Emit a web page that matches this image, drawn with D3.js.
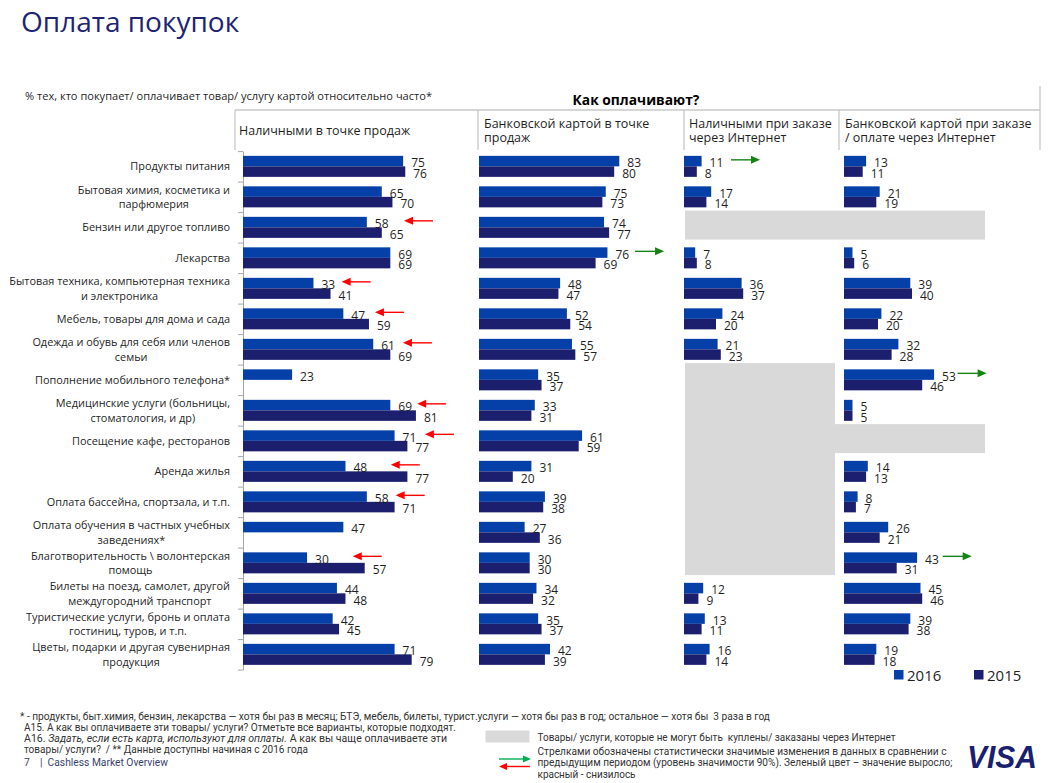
<!DOCTYPE html>
<html><head><meta charset="utf-8">
<script src="https://cdn.jsdelivr.net/npm/d3@7/dist/d3.min.js"></script>
<style>
body{margin:0;background:#fff;}
svg{display:block;font-family:"Open Sans","Noto Sans",sans-serif;}
.pre{white-space:pre;}
</style>
</head><body>
<svg id="chart" width="1055" height="783"></svg>
<script>
// ---------------- DATA ----------------
const categories = [
  ["Продукты питания"],
  ["Бытовая химия, косметика и","парфюмерия"],
  ["Бензин или другое топливо"],
  ["Лекарства"],
  ["Бытовая техника, компьютерная техника","и электроника"],
  ["Мебель, товары для дома и сада"],
  ["Одежда и обувь для себя или членов","семьи"],
  ["Пополнение мобильного телефона*"],
  ["Медицинские услуги (больницы,","стоматология, и др)"],
  ["Посещение кафе, ресторанов"],
  ["Аренда жилья"],
  ["Оплата бассейна, спортзала, и т.п."],
  ["Оплата обучения в частных учебных","заведениях*"],
  ["Благотворительность \\ волонтерская","помощь"],
  ["Билеты на поезд, самолет, другой","междугородний транспорт"],
  ["Туристические услуги, бронь и оплата","гостиниц, туров, и т.п."],
  ["Цветы, подарки и другая сувенирная","продукция"]
];
const panelTitles = [
  ["Наличными в точке продаж"],
  ["Банковской картой в точке","продаж"],
  ["Наличными при заказе","через Интернет"],
  ["Банковской картой при заказе","/ оплате через Интернет"]
];
const years = ["2016","2015"];
const cashStore2016 = [75,65,58,69,33,47,61,23,69,71,48,58,47,30,44,42,71];
const cashStore2015 = [76,70,65,69,41,59,69,null,81,77,77,71,null,57,48,45,79];
const cardStore2016 = [83,75,74,76,48,52,55,35,33,61,31,39,27,30,34,35,42];
const cardStore2015 = [80,73,77,69,47,54,57,37,31,59,20,38,36,30,32,37,39];
const cashNet2016 = [11,17,null,7,36,24,21,null,null,null,null,null,null,null,12,13,16];
const cashNet2015 = [8,14,null,8,37,20,23,null,null,null,null,null,null,null,9,11,14];
const cardNet2016 = [13,21,null,5,39,22,32,53,5,null,14,8,26,43,45,39,19];
const cardNet2015 = [11,19,null,6,40,20,28,46,5,null,13,7,21,31,46,38,18];
// cells where the item cannot be bought online (panel index, first row, number of rows, number of columns)
const notAvailable = [
  {panel:2,row:2,rows:1,cols:2},
  {panel:2,row:7,rows:7,cols:1},
  {panel:3,row:9,rows:1,cols:1}
];
// significant changes: dir -1 = decreased (red), +1 = increased (green); "at" = arrow tip on the value scale
const changes = [
  {panel:0,row:2,dir:-1,at:75.4},
  {panel:0,row:4,dir:-1,at:46.2},
  {panel:0,row:5,dir:-1,at:61.8},
  {panel:0,row:6,dir:-1,at:74.9},
  {panel:0,row:8,dir:-1,at:81.6},
  {panel:0,row:9,dir:-1,at:85.2},
  {panel:0,row:10,dir:-1,at:69.2},
  {panel:0,row:11,dir:-1,at:71.5},
  {panel:0,row:13,dir:-1,at:51.4},
  {panel:1,row:3,dir:1,at:109.5},
  {panel:2,row:0,dir:1,at:47.5},
  {panel:3,row:7,dir:1,at:83.9},
  {panel:3,row:13,dir:1,at:75.1}
];
const footnotes = [
  "* - продукты, быт.химия, бензин, лекарства — хотя бы раз в месяц; БТЭ, мебель, билеты, турист.услуги — хотя бы раз в год; остальное — хотя бы  3 раза в год",
  "A15. А как вы оплачиваете эти товары/ услуги? Отметьте все варианты, которые подходят."
];
const legendNA = "Товары/ услуги, которые не могут быть  куплены/ заказаны через Интернет";
const legendArrows = [
  "Стрелками обозначены статистически значимые изменения в данных в сравнении с",
  "предыдущим периодом (уровень значимости 90%). Зеленый цвет – значение выросло;",
  "красный - снизилось"
];

// ---------------- LAYOUT ----------------
const C16 = "#0540A8", C15 = "#1C1F6E", GRAY = "#D9D9D9", TXT = "#1F1F1F";
const RED = "#FF0000", GREEN = "#148514";
const svg = d3.select("#chart");

const panels = [
  {v16:cashStore2016, v15:cashStore2015, x0:243, k:2.135, hx:239},
  {v16:cardStore2016, v15:cardStore2015, x0:479, k:1.69, hx:484},
  {v16:cashNet2016,  v15:cashNet2015,  x0:684, k:1.60, hx:689, naX:685},
  {v16:cardNet2016,  v15:cardNet2015,  x0:844, k:1.70, hx:845, naX:835}
];
panels.forEach(p => p.x = d3.scaleLinear().domain([0,100]).range([p.x0, p.x0 + 100*p.k]));

const yTop = 151.1, step = 30.5, n = categories.length;
const y = d3.scaleBand().domain(d3.range(n)).range([yTop, yTop + n*step])
  .paddingInner(0.311).paddingOuter(0.1555);
const ySub = d3.scaleBand().domain(years).range([0, y.bandwidth()]);
const rowStep = d3.scaleLinear().domain([0, n]).range([yTop, yTop + n*step]);

// ---------------- TITLE & HEADERS ----------------
svg.append("text").attr("x",21).attr("y",32).attr("font-size",28)
  .attr("fill","#1F2472").text("Оплата покупок");
svg.append("text").attr("x",25).attr("y",99.5).attr("font-size",10.8).attr("fill",TXT)
  .attr("textLength",407).attr("lengthAdjust","spacingAndGlyphs")
  .text("% тех, кто покупает/ оплачивает товар/ услугу картой относительно часто*");
svg.append("text").attr("x",636).attr("y",105).attr("text-anchor","middle")
  .attr("font-size",13.8).attr("font-weight","bold").attr("fill","#000").text("Как оплачивают?");

const frame = svg.append("g").attr("stroke","#C8C8C8").attr("stroke-width",1.3);
frame.append("line").attr("x1",235).attr("x2",1040).attr("y1",110).attr("y2",110);
[235,478,684,839].forEach(xx => frame.append("line").attr("x1",xx).attr("x2",xx).attr("y1",110).attr("y2",150));
frame.append("line").attr("x1",1040).attr("x2",1040).attr("y1",86).attr("y2",150);

panels.forEach((p,i) => {
  const lines = panelTitles[i];
  const t = svg.append("text").attr("font-size",12.5).attr("fill",TXT);
  lines.forEach((ln,j) => {
    t.append("tspan").attr("x",p.hx)
      .attr("y", lines.length === 1 ? 135 : 127.5 + j*14.8).text(ln);
  });
});

// ---------------- NOT AVAILABLE CELLS ----------------
svg.append("g").selectAll("rect").data(notAvailable).join("rect")
  .attr("x", d => panels[d.panel].naX)
  .attr("y", d => rowStep(d.row) - 1.5)
  .attr("width", d => 150*d.cols)
  .attr("height", d => d.rows*step - 1.5)
  .attr("fill", GRAY);

// ---------------- CATEGORY AXIS ----------------
const axisG = svg.append("g").attr("transform","translate(243,0)")
  .call(d3.axisLeft(rowStep).tickValues(d3.range(n+1)).tickSize(5).tickSizeOuter(0).tickFormat(""));
axisG.selectAll("path,line").attr("stroke","#A6A6A6");

// calibrate category font so the longest line is as wide as in the reference (221px)
const probe = svg.append("text").attr("font-size",12).text(categories[4][0]);
const catFont = 12 * 221 / probe.node().getComputedTextLength();
probe.remove();

const catG = svg.append("g").attr("font-size",catFont).attr("fill",TXT);
categories.forEach((lines,i) => {
  const cy = y(i) + y.bandwidth()/2;
  const t = catG.append("text").attr("text-anchor","end");
  const spans = lines.map((ln,j) => t.append("tspan").attr("x",230)
    .attr("y", cy + 4 + (lines.length === 1 ? 0 : (j - 0.5)*14.6)).text(ln));
  const w = d3.max(spans, s => s.node().getComputedTextLength());
  t.attr("text-anchor","middle");
  spans.forEach(s => s.attr("x", 230 - w/2));
});

// ---------------- BARS & LABELS ----------------
panels.forEach((p,pi) => {
  const g = svg.append("g");
  const rows = d3.range(n).flatMap(i => [
    {i, yr:"2016", v:p.v16[i]},
    {i, yr:"2015", v:p.v15[i]}
  ]).filter(d => d.v !== null);
  g.selectAll("rect").data(rows).join("rect")
    .attr("x", p.x(0))
    .attr("y", d => y(d.i) + ySub(d.yr))
    .attr("width", d => p.x(d.v) - p.x(0))
    .attr("height", ySub.bandwidth())
    .attr("fill", d => d.yr === "2016" ? C16 : C15);
  g.selectAll("text").data(rows).join("text")
    .attr("x", d => p.x(d.v) + 8)
    .attr("y", d => y(d.i) + ySub(d.yr) + ySub.bandwidth() + 0.8)
    .attr("font-size",12).attr("fill",TXT)
    .text(d => d.v);
});

// ---------------- ARROWS ----------------
function arrow(g, xTip, xTail, yy, color, head=9, hw=4) {
  const dir = Math.sign(xTip - xTail);
  g.append("line").attr("x1",xTail).attr("x2",xTip - dir*head*0.8).attr("y1",yy).attr("y2",yy)
    .attr("stroke",color).attr("stroke-width",1.4);
  g.append("path").attr("d",`M${xTip},${yy}L${xTip-dir*head},${yy-hw}L${xTip-dir*head},${yy+hw}Z`)
    .attr("fill",color);
}
const arrG = svg.append("g");
changes.forEach(c => {
  const p = panels[c.panel];
  const tip = p.x(c.at);
  const yy = y(c.row) + ySub("2016") + 4;
  arrow(arrG, tip, tip - c.dir*29, yy, c.dir > 0 ? GREEN : RED);
});

// ---------------- LEGEND ----------------
const leg = svg.append("g");
[{yr:"2016",x:894,c:C16},{yr:"2015",x:974,c:C15}].forEach(d => {
  leg.append("rect").attr("x",d.x).attr("y",670).attr("width",9.5).attr("height",9.5).attr("fill",d.c);
  leg.append("text").attr("x",d.x+13).attr("y",680.5).attr("font-size",15).attr("fill",TXT).text(d.yr);
});

// ---------------- FOOTER ----------------
const foot = svg.append("g").attr("font-family","'Liberation Sans Narrow','Roboto',sans-serif")
  .attr("font-size",10).attr("fill","#333");
function ftext(x, yy, len, txt) {
  return foot.append("text").attr("class","pre").attr("x",x).attr("y",yy)
    .attr("textLength",len).attr("lengthAdjust","spacingAndGlyphs").text(txt);
}
ftext(20, 719.5, 750, footnotes[0]);
ftext(24, 730.5, 432, footnotes[1]);
const l3 = foot.append("text").attr("x",24).attr("y",741.5).attr("textLength",423).attr("lengthAdjust","spacingAndGlyphs");
l3.append("tspan").text("A16. ");
l3.append("tspan").attr("font-style","italic").text("Задать, если есть карта, используют для оплаты.");
l3.append("tspan").text(" А как вы чаще оплачиваете эти");
ftext(24, 752.5, 284, "товары/ услуги?  / ** Данные доступны начиная с 2016 года");
ftext(24, 765.5, 144, "7    |  Cashless Market Overview").attr("fill","#3A3F6E");

foot.append("rect").attr("x",485.5).attr("y",730.5).attr("width",44).attr("height",12).attr("fill",GRAY);
ftext(537.5, 740.5, 358, legendNA);
const lw = [409, 415, 98];
legendArrows.forEach((t,j) => ftext(537.5, [754.5,766,777.5][j], lw[j], t));
arrow(foot, 531, 499, 759, "#00B050", 8, 3.5);
arrow(foot, 499, 530, 766.5, RED, 8, 3.5);

svg.append("text").attr("x",967).attr("y",768).attr("font-family","'Liberation Sans',Arial,sans-serif")
  .attr("font-size",31).attr("font-weight","900").attr("font-style","italic")
  .attr("fill","#1A1F71").attr("textLength",70).attr("lengthAdjust","spacingAndGlyphs").text("VISA");
</script>
</body></html>
